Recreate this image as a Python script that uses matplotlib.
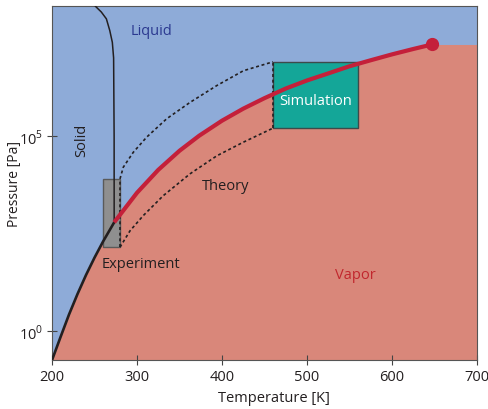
import numpy as np
import matplotlib
matplotlib.use("Agg")
import matplotlib.pyplot as plt
from matplotlib.patches import Rectangle

plt.rcParams['font.family'] = ['Open Sans', 'DejaVu Sans']
plt.rcParams['mathtext.fontset'] = 'custom'
plt.rcParams['mathtext.rm'] = 'Open Sans'

# ---- data ----
sub_T = [200, 210, 220, 230, 240, 250, 260, 273.16]
sub_P = [0.18, 0.70, 2.65, 8.9, 27.3, 76.0, 196.0, 611.7]

lv_T = [273.16, 300, 325, 350, 373.15, 400, 425, 450, 475, 500, 525, 550, 575, 600, 625, 647.1]
lv_P = [611.7, 3.5e3, 1.35e4, 4.17e4, 1.014e5, 2.46e5, 5.0e5, 9.3e5, 1.64e6, 2.64e6,
        4.0e6, 6.1e6, 8.7e6, 1.23e7, 1.69e7, 2.206e7]

melt_T = [273.16, 273.1, 272.5, 271.0, 268.0, 264.0, 258.0, 251.2]
melt_P = [611.7, 1e5, 1e7, 2.5e7, 5e7, 1e8, 1.5e8, 2.09e8]

crit_T, crit_P = 647.1, 2.206e7

theory_up_T = [280, 283.9, 295.6, 311.4, 334.9, 362.4, 393.8, 425.1, 460]
theory_up_logP = [3.90, 4.20, 4.58, 4.97, 5.44, 5.86, 6.29, 6.67, 6.90]
theory_lo_T = [280, 291.8, 307.4, 330.9, 362.4, 393.8, 425.1, 460]
theory_lo_logP = [2.15, 2.57, 2.96, 3.47, 4.03, 4.49, 4.84, 5.20]

exp_T = (260, 280)
exp_logP = (2.15, 3.90)
sim_T = (460, 560)
sim_logP = (5.20, 6.90)

x_ticks = [200, 300, 400, 500, 600, 700]
y_ticks = [1e0, 1e5]
y_ticklabels = [r'$10^0$', r'$10^5$']
xlim = (200, 700)
ylim = (10 ** -0.74, 10 ** 8.33)

blue = '#8eabd8'
pink = '#d9877a'
red = '#c4203a'
teal = '#14a698'
gray = '#8f8f8f'
dark = '#231f20'

fig = plt.figure(figsize=(4.89, 4.10), dpi=100)
ax = fig.add_axes([0.1063, 0.1195, 0.8692, 0.8635])
ax.set_facecolor(blue)
ax.set_yscale('log')
ax.set_xlim(*xlim)
ax.set_ylim(*ylim)

# vapor region
bT = np.array(sub_T + lv_T[1:] + [xlim[1]])
bP = np.array(sub_P + lv_P[1:] + [crit_P])
ax.fill_between(bT, ylim[0], bP, color=pink, lw=0, zorder=1)

# experiment box
ax.add_patch(Rectangle((exp_T[0], 10 ** exp_logP[0]), exp_T[1] - exp_T[0],
                       10 ** exp_logP[1] - 10 ** exp_logP[0],
                       facecolor=gray, edgecolor='#5a5a5a', lw=1.0, zorder=3))
# simulation box
ax.add_patch(Rectangle((sim_T[0], 10 ** sim_logP[0]), sim_T[1] - sim_T[0],
                       10 ** sim_logP[1] - 10 ** sim_logP[0],
                       facecolor=teal, edgecolor='#3d4a4a', lw=1.0, zorder=3))

dots = (0, (1.8, 1.6))
ax.plot(theory_up_T, 10 ** np.array(theory_up_logP), color=dark, lw=1.2, ls=dots, zorder=4)
ax.plot(theory_lo_T, 10 ** np.array(theory_lo_logP), color=dark, lw=1.2, ls=dots, zorder=4)
ax.plot([exp_T[1], exp_T[1]], [10 ** exp_logP[0], 10 ** exp_logP[1]], color=dark, lw=1.2, ls=dots, zorder=4)
ax.plot([sim_T[0], sim_T[0]], [10 ** sim_logP[0], 10 ** sim_logP[1]], color=dark, lw=1.2, ls=dots, zorder=4)

# phase boundaries
ax.plot(sub_T, sub_P, color=dark, lw=1.9, zorder=5, solid_capstyle='butt')
ax.plot(melt_T, melt_P, color=dark, lw=1.1, zorder=5)
ax.plot(lv_T, lv_P, color=red, lw=3.0, zorder=6, solid_capstyle='butt')
ax.plot([crit_T], [crit_P], 'o', color=red, ms=8.5, zorder=7)

fs = 10.5
ax.text(317.6, 10 ** 7.69, 'Liquid', color='#2b3990', fontsize=fs, ha='center', va='center')
ax.text(235.3, 10 ** 4.92, 'Solid', color=dark, fontsize=fs, ha='center', va='center', rotation=90)
ax.text(404.1, 10 ** 3.72, 'Theory', color=dark, fontsize=fs, ha='center', va='center')
ax.text(304.1, 10 ** 1.72, 'Experiment', color=dark, fontsize=fs, ha='center', va='center')
ax.text(510.6, 10 ** 5.905, 'Simulation', color='white', fontsize=fs, ha='center', va='center', zorder=8)
ax.text(556.5, 10 ** 1.46, 'Vapor', color='#c1272d', fontsize=fs, ha='center', va='center')

ax.set_xticks(x_ticks)
ax.set_yticks(y_ticks)
ax.set_yticklabels(y_ticklabels)
ax.minorticks_off()
ax.tick_params(direction='inout', length=7, width=0.8, color='#444444',
               labelsize=fs, labelcolor=dark, pad=3)
for s in ax.spines.values():
    s.set_color('#555555')
    s.set_linewidth(0.8)
ax.set_xlabel('Temperature [K]', fontsize=fs, color=dark)
ax.set_ylabel('Pressure [Pa]', fontsize=10, color=dark)
ax.xaxis.label.set_va('center')
ax.yaxis.label.set_va('center')
ax.xaxis.set_label_coords((273.5 - 52) / 425, -(398 - 361) / 354)
ax.yaxis.set_label_coords((15 - 52) / 425, (361 - 184) / 354)

fig.savefig('out.png', dpi=100)
